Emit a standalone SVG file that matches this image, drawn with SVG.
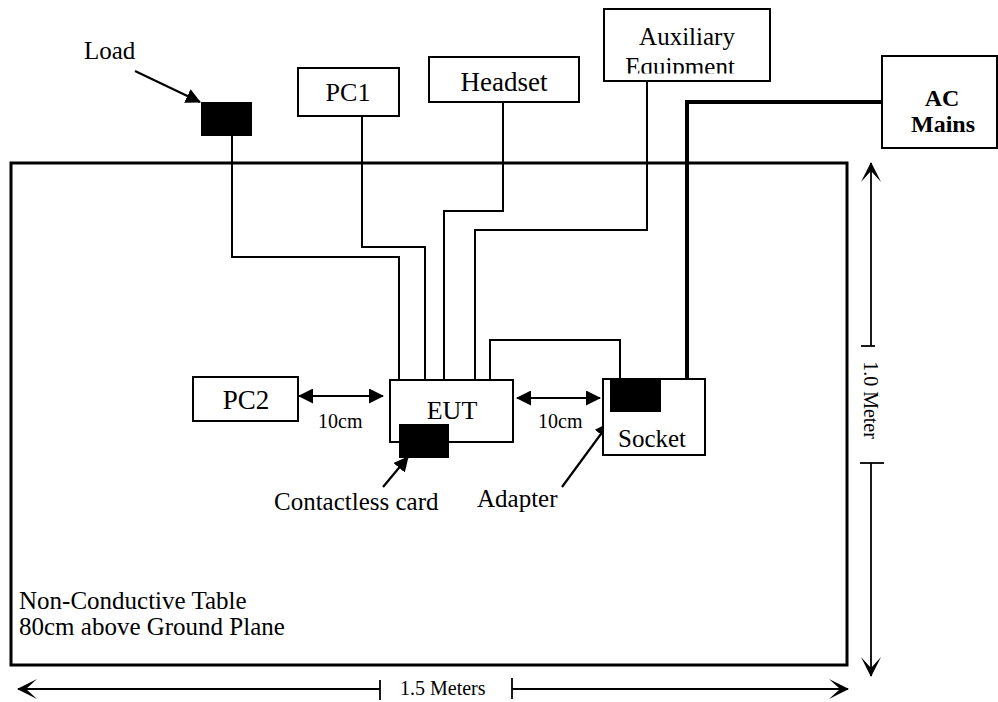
<svg xmlns="http://www.w3.org/2000/svg" width="998" height="702" viewBox="0 0 998 702" font-family="'Liberation Serif', Tinos, 'Times New Roman', 'DejaVu Serif', serif">
<style>
text{font-family:'Liberation Serif',Tinos,'Times New Roman','DejaVu Serif',serif;fill:#000}
.box{fill:#fff;stroke:#000;stroke-width:2}
.blk{fill:#000;stroke:none}
.w{fill:none;stroke:#000;stroke-width:2}
.thick{fill:none;stroke:#000;stroke-width:4}
.arr{fill:none;stroke:#000;stroke-width:2.2;marker-end:url(#tri)}
.darr{fill:none;stroke:#000;stroke-width:2.2;marker-start:url(#tri);marker-end:url(#tri)}
.dim{fill:none;stroke:#000;stroke-width:1.8}
.t25{font-size:25px}
.t20{font-size:20px}
</style>
<defs>
<marker id="tri" markerUnits="userSpaceOnUse" markerWidth="15" markerHeight="15" viewBox="0 0 15 15" refX="14" refY="7.5" orient="auto-start-reverse">
<path d="M0,0 L15,7.5 L0,15 Z" fill="#000"/>
</marker>
<marker id="chev" markerUnits="userSpaceOnUse" markerWidth="20" markerHeight="20" viewBox="0 0 20 20" refX="19" refY="10" orient="auto-start-reverse">
<path d="M0,0 L20,10 L0,20 L11,10 Z" fill="#000"/>
</marker>
<clipPath id="auxclip"><rect x="604" y="9" width="166" height="64.5"/></clipPath>
</defs>

<g id="table">
<rect x="11" y="163" width="836" height="502" fill="none" stroke="#000" stroke-width="3"/>
<text class="t25" x="19" y="609">Non-Conductive Table</text>
<text class="t25" x="19" y="635">80cm above Ground Plane</text>
</g>

<g id="connectors">
<path class="w" d="M232,136 V257 H399 V380"/>
<path class="w" d="M362,116 V247 H425 V380"/>
<path class="w" d="M503,102 V211 H444 V380"/>
<path class="w" d="M647,81 V230 H475 V380"/>
<path class="w" d="M490,380 V340 H620 V380"/>
<path class="thick" d="M882,102 H687 V379"/>
<line class="arr" x1="135" y1="71" x2="200" y2="102"/>
<line class="arr" x1="383" y1="487" x2="408" y2="457"/>
<line class="arr" x1="562" y1="487" x2="609" y2="423"/>
<line class="darr" x1="299" y1="396" x2="383" y2="396"/>
<line class="darr" x1="517" y1="398" x2="600" y2="398"/>
</g>

<g id="load">
<text class="t25" x="84" y="59">Load</text>
<rect class="blk" x="201" y="102" width="51" height="34"/>
</g>

<g id="pc1">
<rect class="box" x="298" y="68" width="101" height="48"/>
<text x="348" y="101" font-size="26" text-anchor="middle">PC1</text>
</g>

<g id="headset">
<rect class="box" x="429" y="57" width="150" height="45"/>
<text x="504" y="91" font-size="27" text-anchor="middle">Headset</text>
</g>

<g id="aux">
<rect class="box" x="604" y="9" width="166" height="72"/>
<g clip-path="url(#auxclip)">
<text class="t25" x="687" y="45" text-anchor="middle">Auxiliary</text>
<text class="t25" x="680" y="75" text-anchor="middle">Equipment</text>
</g>
</g>

<g id="acmains">
<rect class="box" x="882" y="56" width="115" height="92"/>
<text x="942" y="106" font-size="24" font-weight="bold" text-anchor="middle">AC</text>
<text x="943" y="132" font-size="24" font-weight="bold" text-anchor="middle">Mains</text>
</g>

<g id="pc2">
<rect class="box" x="193" y="377" width="105" height="44"/>
<text x="246" y="409" font-size="27" text-anchor="middle">PC2</text>
</g>

<g id="eut">
<rect class="box" x="390" y="380" width="123" height="62"/>
<text x="452" y="419" font-size="26" text-anchor="middle">EUT</text>
</g>

<g id="card">
<rect class="blk" x="399" y="424" width="50" height="34"/>
<text class="t25" x="274" y="510">Contactless card</text>
</g>

<g id="socket">
<rect class="box" x="603" y="379" width="102" height="76"/>
<rect class="blk" x="610" y="380" width="51" height="32"/>
<text class="t25" x="618" y="447">Socket</text>
</g>

<g id="adapter">
<text class="t25" x="477" y="507">Adapter</text>
</g>

<g id="labels10">
<text class="t20" x="318" y="428">10cm</text>
<text class="t20" x="538" y="428">10cm</text>
</g>

<g id="dim-h">
<line class="dim" x1="18" y1="689" x2="380" y2="689" marker-start="url(#chev)"/>
<line class="dim" x1="512" y1="689" x2="848" y2="689" marker-end="url(#chev)"/>
<line class="dim" x1="380" y1="680" x2="380" y2="700"/>
<line class="dim" x1="512" y1="678" x2="512" y2="699"/>
<text class="t20" x="400" y="695">1.5 Meters</text>
</g>

<g id="dim-v">
<line class="dim" x1="871" y1="163" x2="871" y2="346" marker-start="url(#chev)"/>
<line class="dim" x1="871" y1="463" x2="871" y2="676" marker-end="url(#chev)"/>
<line class="dim" x1="861" y1="346" x2="875" y2="346"/>
<line class="dim" x1="860" y1="463" x2="884" y2="463"/>
<text class="t20" transform="translate(864,400) rotate(90)" text-anchor="middle">1.0 Meter</text>
</g>
</svg>
